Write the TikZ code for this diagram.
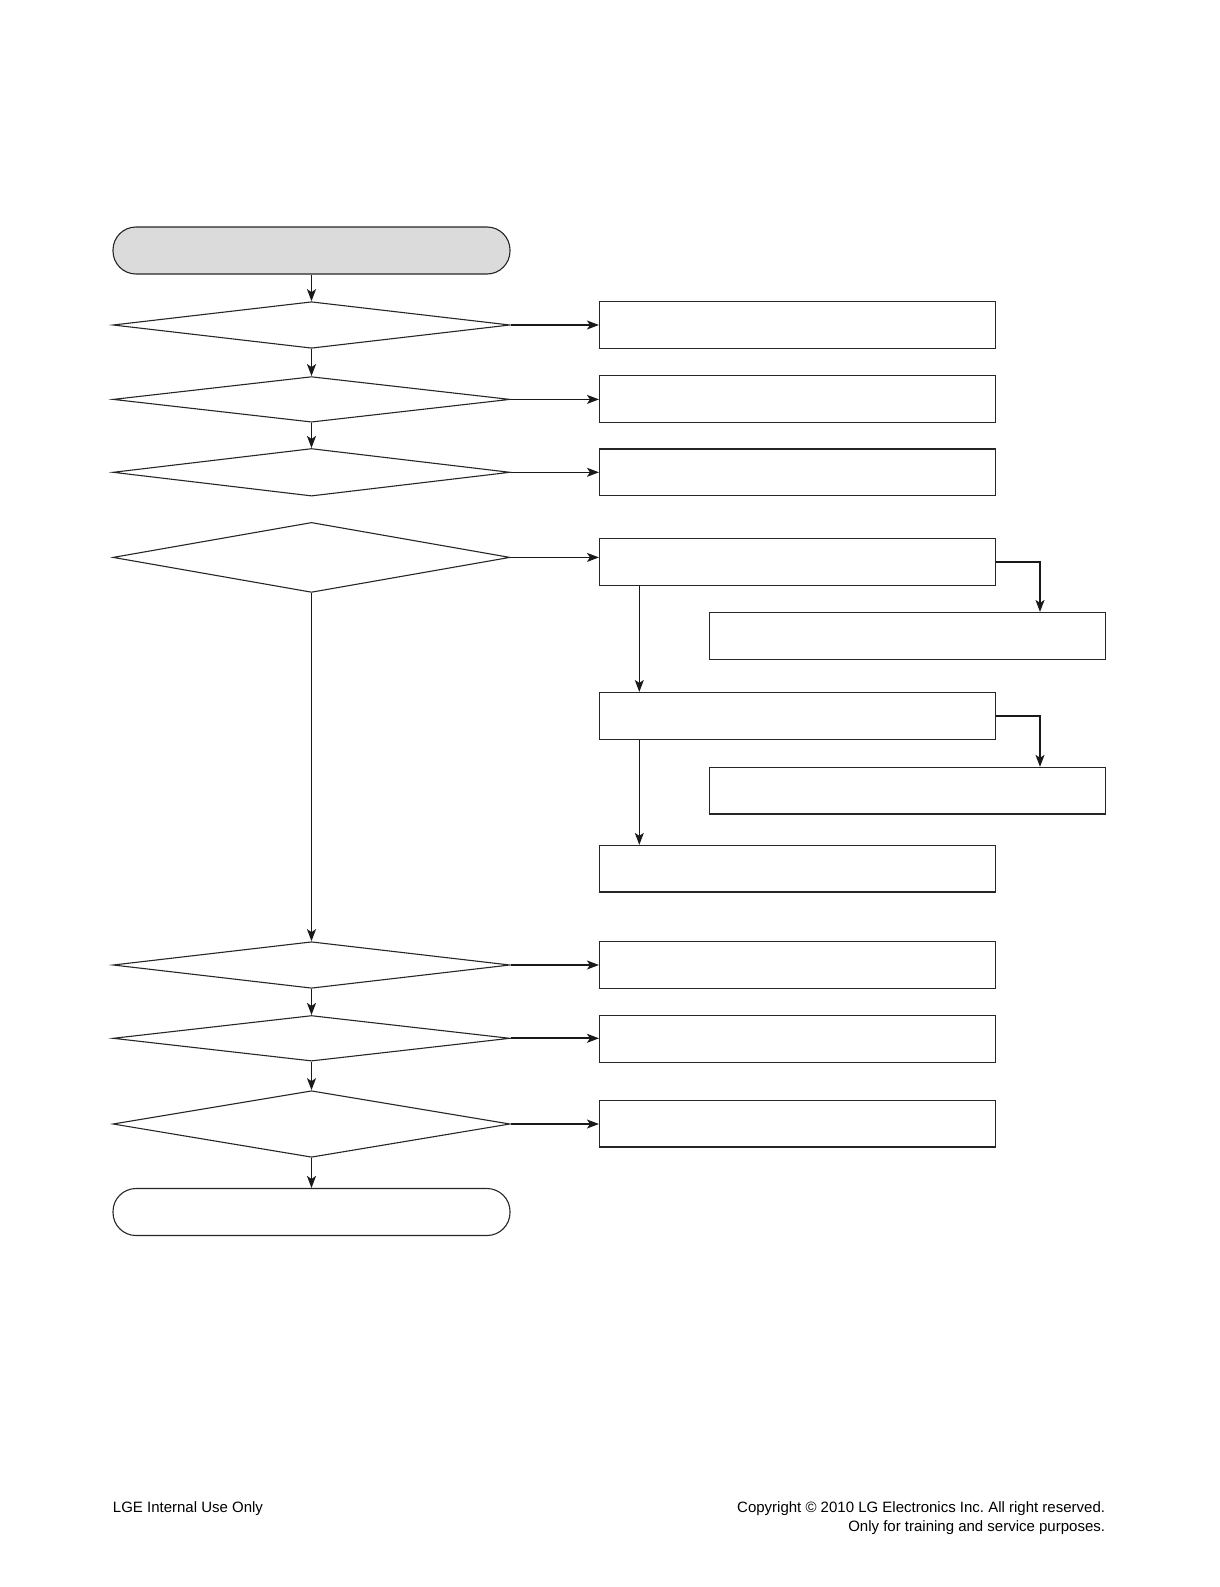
\documentclass[tikz,border=0pt]{standalone}
\usepackage{fontspec}
\setmainfont{Liberation Sans}
\usetikzlibrary{shapes.geometric,arrows.meta}
\frenchspacing
\begin{document}
\begin{tikzpicture}[x=1pt,y=-1pt,
  line width=1.1pt,
  term/.style={draw=black!85,rounded corners=23pt,minimum width=397pt,minimum height=47pt,inner sep=0pt,line width=1.1pt},
  dec/.style={draw=black!85,diamond,inner sep=0pt,minimum width=397pt,line width=1.1pt},
  abox/.style={draw=black!85,rectangle,minimum width=396pt,minimum height=46.6pt,inner sep=0pt,line width=1.1pt},
  arr/.style={draw=black!90,line width=1.7pt,-{Stealth[length=12pt,width=9pt,inset=3pt]}},
  thinarr/.style={draw=black!90,line width=1.2pt,-{Stealth[length=12pt,width=9pt,inset=3pt]}},
  foot/.style={font=\fontsize{15}{18}\selectfont,inner sep=0pt}]
\useasboundingbox (0,0) rectangle (1219,1587);
% left column
\node[term,fill=black!14] (S) at (311.5,250.5) {};
\node[dec,minimum height=46.6pt] (D1) at (311.5,325) {};
\node[dec,minimum height=45.6pt] (D2) at (311.5,399.4) {};
\node[dec,minimum height=47.6pt] (D3) at (311.5,472.3) {};
\node[dec,minimum height=70pt] (D4) at (311.5,557.4) {};
\node[dec,minimum height=46.6pt] (D5) at (311.5,965) {};
\node[dec,minimum height=45.6pt] (D6) at (311.5,1038.3) {};
\node[dec,minimum height=66.6pt] (D7) at (311.5,1124) {};
\node[term] (E) at (311.5,1212) {};
% right column
\node[abox] (B1) at (797.5,325) {};
\node[abox] (B2) at (797.5,399) {};
\node[abox] (B3) at (797.5,472.3) {};
\node[abox] (B4) at (797.5,561.9) {};
\node[abox] (B5) at (907.2,635.8) {};
\node[abox] (B6) at (797.5,715.8) {};
\node[abox] (B7) at (907.2,790.7) {};
\node[abox] (B8) at (797.5,868.7) {};
\node[abox] (B9) at (797.5,965) {};
\node[abox] (B10) at (797.5,1038.8) {};
\node[abox] (B11) at (797.5,1123.7) {};
% main flow
\draw[arr] (S.south) -- (D1.north);
\draw[arr] (D1.south) -- (D2.north);
\draw[arr] (D2.south) -- (D3.north);
\draw[arr] (D4.south) -- (D5.north);
\draw[arr] (D5.south) -- (D6.north);
\draw[arr] (D6.south) -- (D7.north);
\draw[arr] (D7.south) -- (E.north);
% side arrows
\draw[thinarr] (D1.east) -- (D1.east -| B1.west);
\draw[thinarr] (D2.east) -- (D2.east -| B2.west);
\draw[thinarr] (D3.east) -- (D3.east -| B3.west);
\draw[thinarr] (D4.east) -- (D4.east -| B4.west);
\draw[thinarr] (D5.east) -- (D5.east -| B9.west);
\draw[arr] (D6.east) -- (D6.east -| B10.west);
\draw[thinarr] (D7.east) -- (D7.east -| B11.west);
% branches
\coordinate (k1) at (1040,561.9);
\coordinate (k2) at (1040,715.8);
\draw[arr] (B4.east) -- (k1) -- (k1 |- B5.north);
\draw[arr] (B6.east) -- (k2) -- (k2 |- B7.north);
\coordinate (v1) at (639.3,0);
\draw[thinarr] (v1 |- B4.south) -- (v1 |- B6.north);
\draw[thinarr] (v1 |- B6.south) -- (v1 |- B8.north);
% footer
\node[foot,anchor=west] (F1) at (112.4,1508.6) {LGE Internal Use Only};
\node[foot,anchor=east] (F2) at (1105.6,1508.6) {Copyright © 2010 LG Electronics Inc. All right reserved.};
\node[foot,anchor=east] (F3) at (1105.6,1527.8) {Only for training and service purposes.};
\end{tikzpicture}
\end{document}
